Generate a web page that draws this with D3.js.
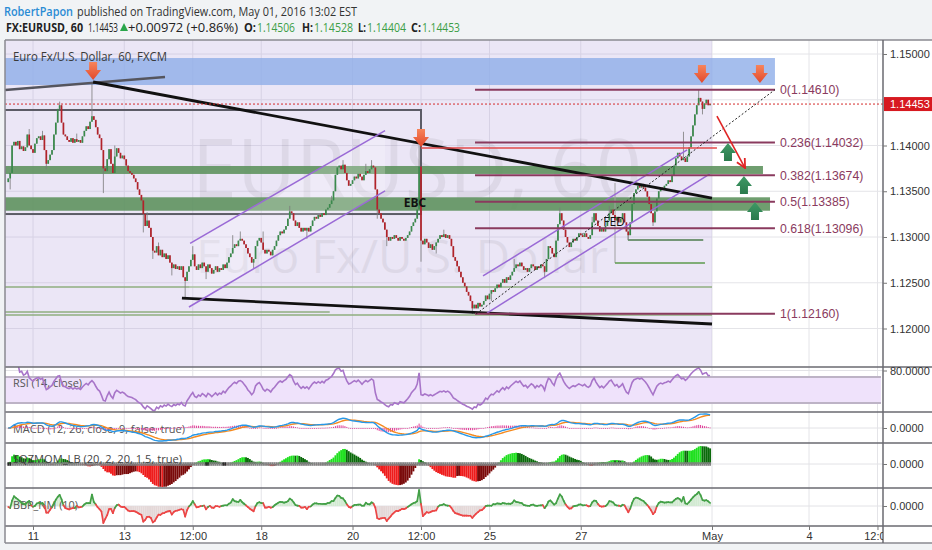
<!DOCTYPE html>
<html><head><meta charset="utf-8">
<script src="https://cdn.jsdelivr.net/npm/d3@7/dist/d3.min.js"></script>
<style>
html,body{margin:0;padding:0;background:#f1f3f5;}
svg{display:block;}
</style></head><body>
<svg id="chart" width="932" height="550"></svg>
<script>
// ================= DATA =================
const firstBar = -10;            // bar index of first close (hourly bars, 0 = Sun Apr 10 21:00 UTC)
const firstOpen = 1.1360;
const closes = [
 1.1364,1.1370,1.1400,1.1404,1.1400,1.1405,1.1396,1.1399,1.1394,1.1398,
 1.1412,1.1400,1.1396,1.1392,1.1402,1.1408,1.1410,1.1406,1.1411,1.1395,1.1380,1.1384,1.1390,1.1395,1.1412,1.1425,1.1440,1.1444,1.1425,1.1412,1.1410,1.1406,1.1404,1.1408,
 1.1403,1.1407,1.1404,1.1406,1.1403,1.1410,1.1416,1.1421,1.1418,1.1426,1.1432,1.1428,1.1420,1.1412,1.1408,1.1395,1.1375,1.1372,1.1385,1.1396,1.1380,1.1370,1.1388,1.1397,
 1.1392,1.1386,1.1389,1.1385,1.1378,1.1372,1.1370,1.1368,1.1364,1.1360,1.1352,1.1346,1.1340,1.1325,1.1312,1.1318,1.1310,1.1300,1.1285,1.1283,1.1290,1.1280,1.1286,1.1278,
 1.1282,1.1276,1.1280,1.1272,1.1266,1.1270,1.1265,1.1268,1.1264,1.1268,1.1256,1.1252,1.1262,1.1268,1.1275,1.1281,1.1268,1.1264,1.1270,1.1266,1.1272,1.1268,1.1262,1.1270,
 1.1266,1.1260,1.1264,1.1268,1.1262,1.1266,1.1264,1.1270,1.1266,1.1272,1.1278,1.1282,1.1288,1.1292,1.1290,1.1296,1.1298,1.1296,1.1292,1.1288,1.1282,1.1278,1.1272,1.1276,
 1.1290,1.1296,1.1299,1.1294,1.1286,1.1282,1.1286,1.1284,1.1280,1.1286,1.1290,1.1296,1.1302,1.1306,1.1304,1.1308,1.1312,1.1320,1.1328,1.1326,1.1318,1.1312,1.1316,1.1310,
 1.1306,1.1310,1.1307,1.1310,1.1306,1.1312,1.1318,1.1322,1.1320,1.1324,1.1322,1.1326,1.1324,1.1330,1.1332,1.1336,1.1340,1.1350,1.1368,1.1376,1.1378,1.1374,1.1379,1.1370,
 1.1362,1.1356,1.1358,1.1362,1.1366,1.1364,1.1369,1.1366,1.1362,1.1368,1.1372,1.1370,1.1374,1.1378,1.1376,1.1352,1.1330,1.1326,1.1320,1.1316,1.1308,1.1300,1.1296,1.1300,
 1.1298,1.1302,1.1299,1.1296,1.1300,1.1298,1.1296,1.1299,1.1302,1.1306,1.1312,1.1316,1.1320,1.1330,1.1377,1.1296,1.1292,1.1298,1.1294,1.1288,1.1292,1.1286,1.1290,1.1294,
 1.1298,1.1302,1.1300,1.1303,1.1299,1.1302,1.1298,1.1290,1.1278,1.1274,1.1268,1.1262,1.1256,1.1250,1.1246,1.1240,1.1236,1.1230,1.1222,1.1226,1.1222,1.1228,1.1224,1.1226,
 1.1230,1.1236,1.1232,1.1238,1.1242,1.1240,1.1244,1.1248,1.1245,1.1250,1.1254,1.1250,1.1256,1.1253,1.1258,1.1262,1.1266,1.1270,1.1268,1.1272,1.1268,1.1264,1.1266,1.1262,
 1.1266,1.1270,1.1268,1.1264,1.1268,1.1266,1.1270,1.1268,1.1262,1.1276,1.1290,1.1288,1.1282,1.1278,1.1296,1.1314,1.1326,1.1318,1.1308,1.1300,1.1294,1.1289,1.1294,1.1298,
 1.1296,1.1300,1.1304,1.1302,1.1300,1.1304,1.1300,1.1298,1.1302,1.1316,1.1326,1.1318,1.1312,1.1306,1.1310,1.1306,1.1312,1.1318,1.1326,1.1330,1.1324,1.1318,1.1322,1.1316,
 1.1320,1.1326,1.1316,1.1306,1.1302,1.1316,1.1336,1.1348,1.1352,1.1356,1.1354,1.1358,1.1354,1.1350,1.1344,1.1336,1.1326,1.1316,1.1328,1.1342,1.1350,1.1354,1.1352,1.1356,
 1.1358,1.1362,1.1360,1.1368,1.1378,1.1386,1.1392,1.1388,1.1384,1.1386,1.1382,1.1388,1.1398,1.1410,1.1422,1.1434,1.1444,1.1452,1.1448,1.1440,1.1446,1.1450,1.1444,1.14453
];
// notable wicks: [bar, high, low]
const wicks = [
 [-9,null,1.1352],[1,1.1418,null],[8,1.1416,null],[10,null,1.1374],[17,1.1448,null],[26,1.1413,null],
 [34,1.1468,null],[40,null,1.1348],[46,1.1400,null],[61,null,1.1305],[63,1.1327,null],[66,null,1.1276],
 [69,1.1294,null],[76,null,1.1258],[83,null,1.1234],[87,1.1290,null],[94,null,1.1254],[108,1.1302,null],
 [112,1.1306,null],[119,null,1.1266],[124,1.1306,null],[138,1.1334,null],[147,null,1.1298],[160,1.1345,null],
 [166,1.1384,null],[178,1.1380,null],[181,1.1384,null],[184,null,1.1320],[189,null,1.1290],[206,1.1400,null],
 [207,null,1.1273],[215,null,1.1282],[219,1.1308,null],[234,null,1.1216],[244,null,1.1230],[256,1.1276,null],
 [272,null,1.1255],[280,1.1332,null],[297,1.1322,null],[306,1.1334,null],[316,null,1.1297],[329,null,1.1312],
 [345,1.1415,null],[353,1.1461,null],[355,null,1.1434]
];
const xTickBars   = [3,51,87,123,171,207,243,291,360,411,447];
const xTickLabels = ["11","13","12:00","18","20","12:00","25","27","May","4","12:00"];
const priceTicks  = [1.12,1.125,1.13,1.135,1.14,1.145,1.15];
const lastPrice   = 1.14453;
const fibRatios = ["0","0.236","0.382","0.5","0.618","1"];
const fibPrices = [1.14610,1.14032,1.13674,1.13385,1.13096,1.12160];
const fibSpan   = [235.4, 393.1];
const blueZone  = [-12, 393.1, 1.14661, 1.14956];
const greenBands = [[-12,386.8,1.13689,1.13776],[-12,390.5,1.13287,1.13434]];
const grayBox   = [-12, 207, 1.13251, 1.14388];
const upperGrayLine = [[-11.7,1.14607],[72.4,1.14749]];
const blackLines = [[[34.6,1.14694],[360,1.13426]], [[81.3,1.12333],[360,1.12049]]];
const thinGreenLines = [[-12,360,1.12454],[-12,159,1.12180],[-12,360,1.12148]];
const channelA = [[[85.6,1.12931],[188.1,1.14162]], [[85.0,1.12235],[188.1,1.13503]]];
const channelB = [[[239.6,1.12574],[346.9,1.13951]], [[241.7,1.12169],[358.9,1.13689]]];
const fibTrend = [[236,1.12160],[393.1,1.14610]];
const redLevel = [207, 362.6, 1.13973];
const redArrowLine = [[362.6,1.14322],[377.4,1.13754]];
const downArrows = [[34.6,1.14716],[207,1.13984],[354.7,1.14683],[385.2,1.14683]];
const upArrows = [[368.4,1.14027],[376.8,1.13667],[382.6,1.13383]];
const fedLines = [ // [vertical bar, vTop, vBottom, hEndBar]
 [315.8,1.13096,1.12967,355.4],[309,1.13590,1.12716,356.3]];
const eventLabels = [["EBC",203.8,1.13372],["FED",308.5,1.13164]];
const header1 = ["RobertPapon"," published on TradingView.com, May 01, 2016 13:02 EST"];
const header2 = ["FX:EURUSD, 60","1.14453","+0.00972 (+0.86%)","O:","1.14506","H:","1.14528","L:","1.14404","C:","1.14453"];
const seriesTitle = "Euro Fx/U.S. Dollar, 60, FXCM";
const watermark = ["EURUSD, 60","Euro Fx/U.S. Dollar"];
const indTitles = ["RSI (14, close)","MACD (12, 26, close, 9, false, true)","SQZMOM_LB (20, 2, 20, 1.5, true)","BBP_NM (10)"];

// ================= LAYOUT =================
const svg = d3.select("#chart");
const SANS = "'Liberation Sans', Arial, sans-serif";
const OPEN = "'Open Sans', 'Liberation Sans', sans-serif";
const plotL = 5, plotR = 883, rightEdge = 932;
const P = {main:[40,367], rsi:[367,412], macd:[412,443], sqz:[443,488], bbp:[488,526]};
const axisBottomY = 543;

const x = d3.scaleLinear().domain([3,360]).range([33,712]);
const y = d3.scaleLinear().domain([1.12,1.15]).range([328.5,54]);

// bars
const bars = closes.map((c,i)=>{
  const o = i ? closes[i-1] : firstOpen;
  return {b:firstBar+i, o, c, h:Math.max(o,c), l:Math.min(o,c)};
});
wicks.forEach(([b,h,l])=>{const d=bars[b-firstBar]; if(!d) return; if(h!=null) d.h=Math.max(d.h,h); if(l!=null) d.l=Math.min(d.l,l);});

// backgrounds
svg.append("rect").attr("width",932).attr("height",550).attr("fill","#f1f3f5");
svg.append("rect").attr("x",plotL).attr("y",P.main[0]).attr("width",rightEdge-plotL).attr("height",axisBottomY-P.main[0]).attr("fill","#ffffff");

const defs = svg.append("defs");
Object.entries(P).forEach(([k,[t,b]])=>{
  defs.append("clipPath").attr("id","clip-"+k).append("rect").attr("x",plotL).attr("y",t).attr("width",plotR-plotL).attr("height",b-t);
});
defs.append("clipPath").attr("id","clip-xaxis").append("rect").attr("x",plotL).attr("y",P.bbp[1]).attr("width",plotR-plotL).attr("height",20);
const gRed = defs.append("linearGradient").attr("id","gRed").attr("x1",0).attr("x2",0).attr("y1",0).attr("y2",1);
gRed.append("stop").attr("offset","0%").attr("stop-color","#f7845a");
gRed.append("stop").attr("offset","100%").attr("stop-color","#e2482c");
const gGreen = defs.append("linearGradient").attr("id","gGreen").attr("x1",0).attr("x2",0).attr("y1",0).attr("y2",1);
gGreen.append("stop").attr("offset","0%").attr("stop-color","#3f9a66");
gGreen.append("stop").attr("offset","100%").attr("stop-color","#2a7a4c");
defs.append("marker").attr("id","arrHead").attr("viewBox","0 0 10 10").attr("refX",9).attr("refY",5)
  .attr("markerWidth",7).attr("markerHeight",7).attr("orient","auto")
  .append("path").attr("d","M1,1L9,5L1,9").attr("fill","none").attr("stroke","#e02424").attr("stroke-width",1.6);

// grid
const grid = svg.append("g");
grid.selectAll("line.vg").data(xTickBars.filter(b=>x(b)<plotR)).join("line")
  .attr("x1",d=>x(d)).attr("x2",d=>x(d)).attr("y1",P.main[0]).attr("y2",P.bbp[1])
  .attr("stroke","#e4e4e8").attr("stroke-width",1);
grid.selectAll("line.hg").data(priceTicks).join("line")
  .attr("x1",plotL).attr("x2",plotR).attr("y1",d=>y(d)).attr("y2",d=>y(d))
  .attr("stroke","#e4e4e8").attr("stroke-width",1);

// ================= MAIN PANEL =================
const main = svg.append("g").attr("clip-path","url(#clip-main)");
// lavender date range
main.append("rect").attr("x",plotL).attr("y",P.main[0]).attr("width",x(360)-plotL).attr("height",P.main[1]-P.main[0])
  .attr("fill","rgb(176,156,218)").attr("opacity",0.25);
// watermark
main.append("text").text(watermark[0]).attr("x",192).attr("y",198).attr("font-family",OPEN).attr("font-size",82)
  .attr("fill","#000").attr("opacity",0.055).attr("textLength",450).attr("lengthAdjust","spacingAndGlyphs");
main.append("text").text(watermark[1]).attr("x",196).attr("y",273).attr("font-family",OPEN).attr("font-size",46)
  .attr("fill","#000").attr("opacity",0.055).attr("textLength",412).attr("lengthAdjust","spacingAndGlyphs");
// blue resistance zone
main.append("rect").attr("x",x(blueZone[0])).attr("width",x(blueZone[1])-x(blueZone[0]))
  .attr("y",y(blueZone[3])).attr("height",y(blueZone[2])-y(blueZone[3])).attr("fill","#8eaee8").attr("opacity",0.8);
main.append("text").text(seriesTitle).attr("x",13).attr("y",61).attr("font-family",OPEN).attr("font-size",12.5)
  .attr("fill","#3a3a3a").attr("textLength",154).attr("lengthAdjust","spacingAndGlyphs");
// green bands
main.selectAll("rect.gb").data(greenBands).join("rect")
  .attr("x",d=>x(d[0])).attr("width",d=>x(d[1])-x(d[0])).attr("y",d=>y(d[3])).attr("height",d=>y(d[2])-y(d[3]))
  .attr("fill","#5b915b").attr("opacity",0.88);
// thin green lines
main.selectAll("line.tg").data(thinGreenLines).join("line")
  .attr("x1",d=>x(d[0])).attr("x2",d=>x(d[1])).attr("y1",d=>y(d[2])).attr("y2",d=>y(d[2]))
  .attr("stroke","#8fae7f").attr("stroke-width",1.6);
// gray rectangle
main.append("rect").attr("x",x(grayBox[0])).attr("width",x(grayBox[1])-x(grayBox[0]))
  .attr("y",y(grayBox[3])).attr("height",y(grayBox[2])-y(grayBox[3])).attr("fill","none").attr("stroke","#5c5c66").attr("stroke-width",2);
// channel A light fill
const chA = [channelA[0][0],channelA[0][1],channelA[1][1],channelA[1][0]];
main.append("path").attr("d",d3.line().x(d=>x(d[0])).y(d=>y(d[1]))(chA)+"Z").attr("fill","#ffffff").attr("opacity",0.22);
// FED lines
fedLines.forEach(([b,pt,pb,be],i)=>{
  main.append("line").attr("x1",x(b)).attr("x2",x(b)).attr("y1",y(pt)).attr("y2",y(pb)).attr("stroke","#a0a0a0").attr("stroke-width",1);
  main.append("line").attr("x1",x(b)).attr("x2",x(be)).attr("y1",y(pb)).attr("y2",y(pb)).attr("stroke",i?"#5c9a4c":"#4d7b4d").attr("stroke-width",1.5);
});
// candles
const gC = main.append("g");
gC.selectAll("line").data(bars).join("line")
  .attr("x1",d=>x(d.b)).attr("x2",d=>x(d.b)).attr("y1",d=>y(d.h)).attr("y2",d=>y(d.l))
  .attr("stroke","#7a7a7a").attr("stroke-width",0.8);
gC.selectAll("rect").data(bars).join("rect")
  .attr("x",d=>x(d.b)-0.85).attr("width",1.7)
  .attr("y",d=>y(Math.max(d.o,d.c))).attr("height",d=>Math.max(0.9,Math.abs(y(d.o)-y(d.c))))
  .attr("fill",d=>d.c>=d.o?"#3a8a4c":"#b2222a");
// trend lines
const seg = d3.line().x(d=>x(d[0])).y(d=>y(d[1]));
main.append("path").attr("d",seg(upperGrayLine)).attr("stroke","#55555e").attr("stroke-width",2.6).attr("fill","none");
main.selectAll("path.bl").data(blackLines).join("path").attr("d",seg).attr("stroke","#111").attr("stroke-width",2.8).attr("fill","none");
main.selectAll("path.ch").data([...channelA,...channelB]).join("path").attr("d",seg).attr("stroke","#9a6ad6").attr("stroke-width",1.5).attr("fill","none");
// fib levels
main.selectAll("line.fib").data(fibPrices).join("line")
  .attr("x1",x(fibSpan[0])).attr("x2",x(fibSpan[1])).attr("y1",d=>y(d)).attr("y2",d=>y(d))
  .attr("stroke","#8a3a5e").attr("stroke-width",2);
main.append("path").attr("d",seg(fibTrend)).attr("stroke","#222").attr("stroke-width",1).attr("stroke-dasharray","2,2").attr("fill","none");
main.selectAll("text.fib").data(fibPrices).join("text")
  .text((d,i)=>`${fibRatios[i]}(${d.toFixed(5)})`)
  .attr("x",x(fibSpan[1])+5).attr("y",d=>y(d)).attr("dy","0.35em")
  .attr("font-family",SANS).attr("font-size",12.3).attr("fill","#8a3a5e");
// red resistance level
main.append("line").attr("x1",x(redLevel[0])).attr("x2",x(redLevel[1])).attr("y1",y(redLevel[2])).attr("y2",y(redLevel[2]))
  .attr("stroke","#e24a4a").attr("stroke-width",1.6);
// red arrow line
main.append("path").attr("d",seg(redArrowLine)).attr("stroke","#e02424").attr("stroke-width",1.6).attr("fill","none").attr("marker-end","url(#arrHead)");
// arrows
main.selectAll("path.da").data(downArrows).join("path")
  .attr("d",d=>{const cx=x(d[0]),t=y(d[1]);return `M${cx-4},${t-18}H${cx+4}V${t-10}H${cx+8}L${cx},${t}L${cx-8},${t-10}H${cx-4}Z`;})
  .attr("fill","url(#gRed)");
main.selectAll("path.ua").data(upArrows).join("path")
  .attr("d",d=>{const cx=x(d[0]),t=y(d[1]);return `M${cx},${t}L${cx+8},${t+10}H${cx+4}V${t+18}H${cx-4}V${t+10}H${cx-8}Z`;})
  .attr("fill","url(#gGreen)");
// event labels
main.selectAll("text.ev").data(eventLabels).join("text").text(d=>d[0])
  .attr("x",d=>x(d[1])).attr("y",d=>y(d[2])).attr("dy","0.35em").attr("text-anchor","middle")
  .attr("font-family",OPEN).attr("font-size",12).attr("font-weight",(d,i)=>i?400:700).attr("fill","#111");
// last price dotted
main.append("line").attr("x1",plotL).attr("x2",plotR).attr("y1",y(lastPrice)).attr("y2",y(lastPrice))
  .attr("stroke","#d42a2a").attr("stroke-width",1).attr("stroke-dasharray","2,2");

// ================= INDICATORS =================
const N = bars.length;
const cl = bars.map(d=>d.c), hi = bars.map(d=>d.h), lo = bars.map(d=>d.l);
// RSI 14 (Wilder)
const rsi = [];
{ let ag=0, al=0;
  for(let i=1;i<N;i++){ const ch=cl[i]-cl[i-1], g=Math.max(ch,0), l=Math.max(-ch,0);
    const n = Math.min(14,i); ag=(ag*(n-1)+g)/n; al=(al*(n-1)+l)/n;
    rsi.push({b:bars[i].b, v: al===0?100:100-100/(1+ag/al)}); } }
// MACD 12 26 9
const ema = (arr,n)=>{const k=2/(n+1); let e=arr[0]; return arr.map(v=>(e=e+k*(v-e)));};
const e12=ema(cl,12), e26=ema(cl,26);
const macd = cl.map((_,i)=>e12[i]-e26[i]);
const sig = ema(macd,9);
const hist = macd.map((m,i)=>m-sig[i]);
// Squeeze momentum (LazyBear)
const dev=[], sqzOn=[];
for(let i=0;i<N;i++){
  const n=Math.min(20,i+1), s=i-n+1; let hh=-Infinity, ll=Infinity, sum=0;
  for(let k=s;k<=i;k++){hh=Math.max(hh,hi[k]); ll=Math.min(ll,lo[k]); sum+=cl[k];}
  const ma=sum/n; let vv=0, trs=0;
  for(let k=s;k<=i;k++){ vv+=(cl[k]-ma)**2;
    trs += k>0 ? Math.max(hi[k]-lo[k], Math.abs(hi[k]-cl[k-1]), Math.abs(lo[k]-cl[k-1])) : hi[k]-lo[k]; }
  const sd=Math.sqrt(vv/n), rng=trs/n;
  sqzOn.push((ma-2*sd)>(ma-1.5*rng) && (ma+2*sd)<(ma+1.5*rng));
  dev.push(cl[i]-((hh+ll)/2+ma)/2);
}
const sqz = dev.map((_,i)=>{
  const m=Math.min(20,i+1); if(m<2) return dev[i];
  const s=i-m+1, xm=(m-1)/2; let ym=0; for(let k=s;k<=i;k++) ym+=dev[k]; ym/=m;
  let num=0, den=0; for(let k=s;k<=i;k++){const xx=k-s-xm; num+=xx*(dev[k]-ym); den+=xx*xx;}
  return ym + (num/den)*(m-1-xm);
});
// Bull bear power (10)
const e10 = ema(cl,10);
const bbp = cl.map((_,i)=>hi[i]+lo[i]-2*e10[i]);

// ---- RSI panel ----
const ry = d3.scaleLinear().domain([30,70]).range([403,377]);
const gR = svg.append("g").attr("clip-path","url(#clip-rsi)");
gR.append("rect").attr("x",plotL).attr("width",881-plotL).attr("y",ry(70)).attr("height",ry(30)-ry(70)).attr("fill","#efe2fb");
gR.selectAll("line.rb").data([70,30]).join("line").attr("x1",plotL).attr("x2",881).attr("y1",d=>ry(d)).attr("y2",d=>ry(d))
  .attr("stroke","#bdb3c6").attr("stroke-width",2);
gR.append("line").attr("x1",plotL).attr("x2",plotR).attr("y1",ry(80)).attr("y2",ry(80)).attr("stroke","#e2e2e6");
gR.append("text").text(indTitles[0]).attr("x",13).attr("y",383).attr("dy","0.35em").attr("font-family",OPEN).attr("font-size",11).attr("fill","#555")
  .attr("textLength",69).attr("lengthAdjust","spacingAndGlyphs");
gR.append("path").datum(rsi).attr("d",d3.line().x(d=>x(d.b)).y(d=>ry(d.v))).attr("fill","none").attr("stroke","#a875c9").attr("stroke-width",1.6);

// ---- MACD panel ----
const mAll = macd.concat(sig,hist);
const my = d3.scaleLinear().domain([d3.min(mAll),0,d3.max(mAll)]).range([441,428,414]);
const gM = svg.append("g").attr("clip-path","url(#clip-macd)");
gM.append("line").attr("x1",plotL).attr("x2",plotR).attr("y1",my(0)).attr("y2",my(0)).attr("stroke","#e2e2e6");
gM.append("text").text(indTitles[1]).attr("x",13).attr("y",429).attr("dy","0.35em").attr("font-family",OPEN).attr("font-size",11).attr("fill","#555")
  .attr("textLength",172).attr("lengthAdjust","spacingAndGlyphs");
gM.selectAll("rect").data(hist.map((v,i)=>({b:bars[i].b,v}))).join("rect")
  .attr("x",d=>x(d.b)-0.5).attr("width",1).attr("y",d=>Math.min(my(0),my(d.v))).attr("height",d=>Math.max(0.8,Math.abs(my(d.v)-my(0))))
  .attr("fill","#e03c96");
gM.append("path").datum(sig.map((v,i)=>({b:bars[i].b,v}))).attr("d",d3.line().x(d=>x(d.b)).y(d=>my(d.v))).attr("fill","none").attr("stroke","#f58a1f").attr("stroke-width",1.4);
gM.append("path").datum(macd.map((v,i)=>({b:bars[i].b,v}))).attr("d",d3.line().x(d=>x(d.b)).y(d=>my(d.v))).attr("fill","none").attr("stroke","#2898e8").attr("stroke-width",1.4);

// ---- SQZ panel ----
const sy = d3.scaleLinear().domain([d3.min(sqz),0,d3.max(sqz)]).range([487,464,446]);
const gS = svg.append("g").attr("clip-path","url(#clip-sqz)");
gS.append("line").attr("x1",plotL).attr("x2",plotR).attr("y1",sy(0)).attr("y2",sy(0)).attr("stroke","#e2e2e6");
const sData = sqz.map((v,i)=>({b:bars[i].b, v, p: i?sqz[i-1]:0, on:sqzOn[i]}));
gS.selectAll("rect.sb").data(sData).join("rect")
  .attr("x",d=>x(d.b)-0.95).attr("width",1.9).attr("y",d=>Math.min(sy(0),sy(d.v))).attr("height",d=>Math.abs(sy(d.v)-sy(0)))
  .attr("fill",d=>d.v>0?(d.v>d.p?"#1fe01f":"#0a6a0a"):(d.v<d.p?"#ee1c1c":"#7a0a0a"));
gS.selectAll("rect.sz").data(sData).join("rect")
  .attr("x",d=>x(d.b)-0.9).attr("width",1.8).attr("y",sy(0)-1.8).attr("height",3.6)
  .attr("fill",d=>d.on?"#2a2a2a":"#808080");
gS.append("text").text(indTitles[2]).attr("x",13).attr("y",459).attr("dy","0.35em").attr("font-family",OPEN).attr("font-size",11).attr("fill","#444")
  .attr("textLength",169).attr("lengthAdjust","spacingAndGlyphs");

// ---- BBP panel ----
const by = d3.scaleLinear().domain([d3.min(bbp),0,d3.max(bbp)]).range([523,506,490]);
const gB = svg.append("g").attr("clip-path","url(#clip-bbp)");
gB.append("line").attr("x1",plotL).attr("x2",plotR).attr("y1",by(0)).attr("y2",by(0)).attr("stroke","#e2e2e6");
const bData = bbp.map((v,i)=>({b:bars[i].b, v}));
gB.selectAll("rect").data(bData).join("rect")
  .attr("x",d=>x(d.b)-0.95).attr("width",1.9).attr("y",d=>Math.min(by(0),by(d.v))).attr("height",d=>Math.abs(by(d.v)-by(0)))
  .attr("fill",d=>d.v>=0?"#d3ead3":"#e4d8d8");
gB.append("text").text(indTitles[3]).attr("x",13).attr("y",505).attr("dy","0.35em").attr("font-family",OPEN).attr("font-size",11).attr("fill","#555")
  .attr("textLength",65).attr("lengthAdjust","spacingAndGlyphs");
gB.selectAll("line.bl").data(bData.slice(1).map((d,i)=>({a:bData[i],d}))).join("line")
  .attr("x1",s=>x(s.a.b)).attr("x2",s=>x(s.d.b)).attr("y1",s=>by(s.a.v)).attr("y2",s=>by(s.d.v))
  .attr("stroke",s=>s.d.v>=0?"#43a047":"#ec4646").attr("stroke-width",1.7).attr("stroke-linecap","round");

// ================= FRAMES & AXES =================
const fr = svg.append("g");
[P.main[1],P.rsi[1],P.macd[1],P.sqz[1]].forEach(v=>fr.append("line").attr("x1",plotL).attr("x2",rightEdge).attr("y1",v).attr("y2",v).attr("stroke","#6a6a70").attr("stroke-width",1.5));
fr.append("line").attr("x1",plotL).attr("x2",rightEdge).attr("y1",P.main[0]).attr("y2",P.main[0]).attr("stroke","#8a8a90").attr("stroke-width",1.5);
fr.append("line").attr("x1",plotL).attr("x2",rightEdge).attr("y1",P.bbp[1]).attr("y2",P.bbp[1]).attr("stroke","#6a6a70").attr("stroke-width",1.5);
fr.append("line").attr("x1",plotL).attr("x2",rightEdge).attr("y1",axisBottomY).attr("y2",axisBottomY).attr("stroke","#8a8a90").attr("stroke-width",1.5);
fr.append("line").attr("x1",plotL).attr("x2",plotL).attr("y1",P.main[0]).attr("y2",axisBottomY).attr("stroke","#8a8a90").attr("stroke-width",1.5);
fr.append("line").attr("x1",plotR).attr("x2",plotR).attr("y1",P.main[0]).attr("y2",axisBottomY).attr("stroke","#6a6a70").attr("stroke-width",1.5);

function styleAxis(g){
  g.select(".domain").remove();
  g.selectAll("line").attr("stroke","#777");
  g.selectAll("text").attr("font-family",SANS).attr("font-size",11).attr("fill","#333");
}
// price labels hidden where the last-price tag sits (as TradingView does)
const shownPriceTicks = priceTicks.filter(p=>Math.abs(y(p)-y(lastPrice))>12);
svg.append("g").attr("transform",`translate(${plotR},0)`)
  .call(d3.axisRight(y).tickValues(shownPriceTicks).tickFormat(d3.format(".5f")).tickSize(4).tickPadding(3)).call(styleAxis);
svg.append("g").attr("transform",`translate(${plotR},0)`)
  .call(d3.axisRight(ry).tickValues([80]).tickFormat(d3.format(".4f")).tickSize(4).tickPadding(3)).call(styleAxis);
svg.append("g").attr("transform",`translate(${plotR},0)`)
  .call(d3.axisRight(my).tickValues([0]).tickFormat(d3.format(".4f")).tickSize(4).tickPadding(3)).call(styleAxis);
svg.append("g").attr("transform",`translate(${plotR},0)`)
  .call(d3.axisRight(sy).tickValues([0]).tickFormat(d3.format(".4f")).tickSize(4).tickPadding(3)).call(styleAxis);
svg.append("g").attr("transform",`translate(${plotR},0)`)
  .call(d3.axisRight(by).tickValues([0]).tickFormat(d3.format(".4f")).tickSize(4).tickPadding(3)).call(styleAxis);
svg.append("g").attr("clip-path","url(#clip-xaxis)").append("g").attr("transform",`translate(0,${P.bbp[1]})`)
  .call(d3.axisBottom(x).tickValues(xTickBars).tickFormat((d,i)=>xTickLabels[i]).tickSize(4).tickPadding(2)).call(styleAxis);

// last price label
const lp = svg.append("g");
lp.append("rect").attr("x",plotR+1).attr("y",y(lastPrice)-7).attr("width",rightEdge-plotR-1).attr("height",14).attr("fill","#d71920");
lp.append("text").text(d3.format(".5f")(lastPrice)).attr("x",plotR+7).attr("y",y(lastPrice)).attr("dy","0.35em")
  .attr("font-family",SANS).attr("font-size",11).attr("fill","#fff");

// ================= HEADER =================
const hd = svg.append("g").attr("font-family",OPEN).attr("font-size",12.5);
hd.append("text").text(header1[0]).attr("x",4).attr("y",16).attr("fill","#2a8bd4").attr("font-weight",600).attr("textLength",69).attr("lengthAdjust","spacingAndGlyphs");
hd.append("text").text(header1[1].trim()).attr("x",77).attr("y",16).attr("fill","#333").attr("textLength",280).attr("lengthAdjust","spacingAndGlyphs");
const h2pos = [[6,77,"#222",700],[88,30,"#222",400],[128,110,"#222",400],[244,12,"#222",700],[257,38,"#3c9e46",400],
  [302,11,"#222",700],[314,39,"#3c9e46",400],[358,8,"#222",700],[367,39,"#3c9e46",400],[411,10,"#222",700],[422,38,"#3c9e46",400]];
header2.forEach((t,i)=>{const [px,w,c,fw]=h2pos[i];
  hd.append("text").text(t).attr("x",px).attr("y",32).attr("fill",c).attr("font-weight",fw).attr("textLength",w).attr("lengthAdjust","spacingAndGlyphs");});
hd.append("path").attr("d","M120,31L124,23L128,31Z").attr("fill","#2aa64a");
</script>
</body></html>
